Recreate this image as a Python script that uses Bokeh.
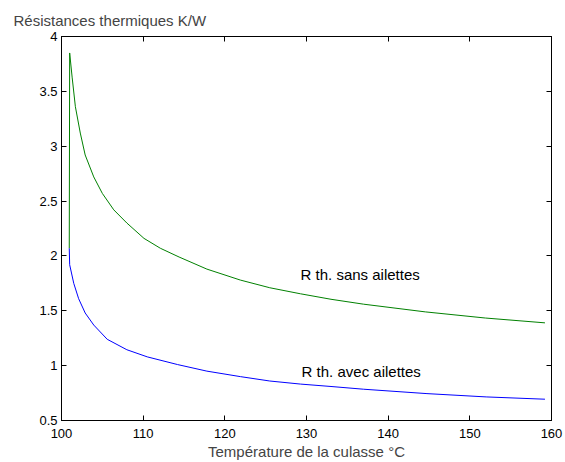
from bokeh.plotting import figure
from bokeh.models import LinearAxis, FixedTicker, Range1d, Title
from bokeh.core.properties import value
from bokeh.embed import file_html
from bokeh.resources import INLINE

# --- data ---
x_sans = [100.95, 101.0, 101.3, 101.7, 102.3, 102.9, 103.95, 105.0, 106.4, 108.0,
          110.1, 112.1, 114.4, 117.8, 121.9, 125.5, 129.25, 133.0, 137.0, 144.55,
          151.9, 159.2]
r_sans = [2.07, 3.85, 3.63, 3.36, 3.12, 2.92, 2.72, 2.57, 2.42, 2.30,
          2.16, 2.07, 1.99, 1.88, 1.78, 1.71, 1.655, 1.605, 1.56, 1.49,
          1.434, 1.39]

x_avec = [100.95, 101.0, 101.5, 102.1, 102.9, 103.95, 105.6, 108.0, 110.5, 114.2,
          117.8, 121.9, 125.5, 129.25, 133.0, 137.0, 144.75, 152.0, 159.2]
r_avec = [2.07, 1.92, 1.75, 1.61, 1.48, 1.37, 1.24, 1.145, 1.08, 1.01,
          0.95, 0.90, 0.86, 0.832, 0.81, 0.785, 0.745, 0.715, 0.694]

x_ticks = [100, 110, 120, 130, 140, 150, 160]
y_ticks = [0.5, 1, 1.5, 2, 2.5, 3, 3.5, 4]
y_tick_labels = ["0.5", "1", "1.5", "2", "2.5", "3", "3.5", "4"]

title_text = "Résistances thermiques K/W"
xlabel_text = "Température de la culasse °C"
label_sans = "R th. sans ailettes"
label_avec = "R th. avec ailettes"
label_x = [129.27, 129.4]
label_y = [1.83, 0.95]

FONT = "Liberation Sans"

p = figure(width=565, height=462, output_backend="svg", toolbar_location=None,
           x_range=Range1d(100, 160), y_range=Range1d(0.5, 4),
           min_border_left=61, min_border_right=14, min_border_top=36, min_border_bottom=41)
p.title = Title(text=title_text, align="left", offset=-48, text_font=FONT,
                text_font_size="15px", text_font_style="normal", standoff=15)
p.grid.visible = False
p.outline_line_color = "black"
p.background_fill_color = "white"
p.border_fill_color = "white"

def style_axis(ax, ticks, show_labels):
    ax.ticker = FixedTicker(ticks=ticks)
    ax.axis_line_color = "black"
    ax.major_tick_line_color = "black"
    ax.major_tick_in = 5
    ax.major_tick_out = 0
    ax.minor_tick_line_color = None
    ax.major_label_text_font = FONT
    ax.major_label_text_font_size = "13px"
    ax.major_label_text_color = "black"
    ax.major_label_standoff = 4
    if not show_labels:
        ax.major_label_overrides = {t: "" for t in ticks}

xa = p.xaxis[0]
style_axis(xa, x_ticks, True)
xa.major_label_standoff = 8
xa.axis_label = xlabel_text
xa.axis_label_text_font = FONT
xa.axis_label_text_font_size = "15px"
xa.axis_label_text_font_style = "normal"
xa.axis_label_standoff = 2

ya = p.yaxis[0]
style_axis(ya, y_ticks, True)
ya.major_label_overrides = {t: l for t, l in zip(y_ticks, y_tick_labels)}

top = LinearAxis()
style_axis(top, x_ticks, False)
p.add_layout(top, "above")
right = LinearAxis()
style_axis(right, y_ticks, False)
p.add_layout(right, "right")

p.line(x_sans, r_sans, line_color="#008000", line_width=1)
p.line(x_avec, r_avec, line_color="#0000ff", line_width=1)

p.text(x=label_x, y=label_y, text=[label_sans, label_avec], text_font=value(FONT),
       text_font_size="15px", text_align="left", text_baseline="middle", text_color="black")

open("out.html", "w").write(file_html(p, INLINE))
